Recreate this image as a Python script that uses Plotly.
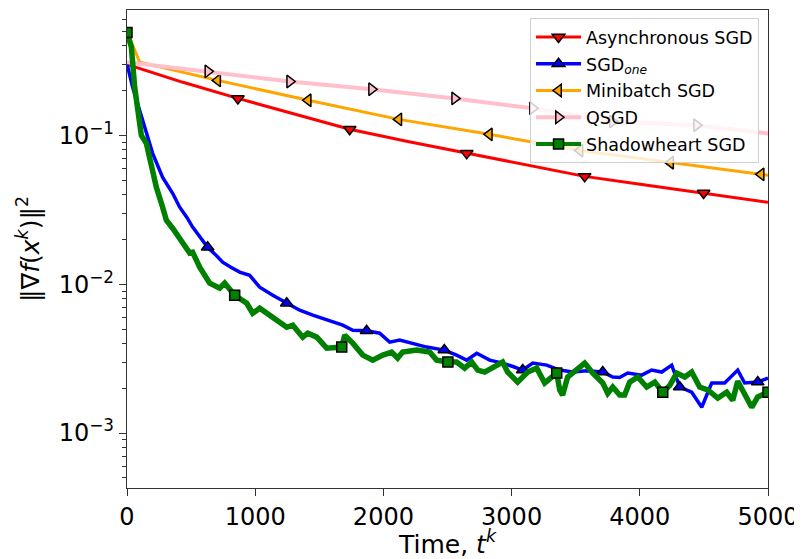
import plotly.graph_objects as go

# ---- data (time, squared gradient norm) ----
async_t = [0, 430, 865, 1300, 1737, 2190, 2650, 3110, 3570, 4030, 4498, 5000]
async_v = [0.300, 0.228, 0.177, 0.139, 0.110, 0.091, 0.0757, 0.063, 0.053, 0.0465, 0.041, 0.0355]
async_marks = [865, 1737, 2650, 3570, 4498]

one_t = [0, 44, 99, 154, 200, 278, 356, 411, 466, 512,
         570, 629, 690, 746, 810, 879, 957, 1035, 1137, 1246,
         1347, 1449, 1558, 1610, 1683, 1761, 1869, 1971, 2049, 2127,
         2228, 2338, 2475, 2571, 2649, 2728, 2829, 2931, 3010, 3087,
         3165, 3274, 3375, 3477, 3587, 3711, 3789, 3843, 3906, 4015,
         4093, 4171, 4249, 4311, 4405, 4483, 4561, 4662, 4764, 4818,
         4920, 5000]
one_v = [0.303, 0.210, 0.147, 0.103, 0.0757, 0.0522, 0.0408, 0.0329, 0.0282, 0.0242,
         0.0207, 0.0177, 0.0158, 0.01406, 0.0130, 0.01205, 0.01148, 0.00955, 0.00844, 0.00745,
         0.00669, 0.00620, 0.00573, 0.00556, 0.00531, 0.00491, 0.00486, 0.00469, 0.00408, 0.00421,
         0.00402, 0.00378, 0.00361, 0.00334, 0.00309, 0.00344, 0.00309, 0.00295, 0.00280, 0.00265,
         0.00295, 0.00286, 0.00265, 0.00257, 0.00262, 0.00257, 0.00238, 0.00236, 0.00253, 0.00245,
         0.00265, 0.00257, 0.00286, 0.00204, 0.00188, 0.00149, 0.00217, 0.00217, 0.00265, 0.00217,
         0.00220, 0.00234]
one_marks = [629, 1246, 1869, 2475, 3087, 3711, 4311, 4920]

mini_t = [0, 99, 707, 1413, 2120, 2826, 3533, 4240, 4946, 5000]
mini_v = [0.50, 0.31, 0.234, 0.172, 0.128, 0.1016, 0.079, 0.0655, 0.0547, 0.054]
mini_marks = [707, 1413, 2120, 2826, 3533, 4240, 4946]

qsgd_t = [0, 631, 1269, 1908, 2556, 3164, 3788, 4443, 5000]
qsgd_v = [0.31, 0.269, 0.230, 0.204, 0.177, 0.152, 0.124, 0.117, 0.103]
qsgd_marks = [631, 1269, 1908, 2556, 3164, 3788, 4443]

shadow_t = [0, 34, 60, 83, 112, 151, 190, 229, 278, 307,
            360, 411, 489, 512, 567, 645, 723, 762, 840, 934,
            980, 1035, 1137, 1246, 1293, 1371, 1410, 1480, 1558, 1636,
            1675, 1698, 1761, 1839, 1917, 1995, 2064, 2111, 2150, 2260,
            2361, 2416, 2503, 2571, 2634, 2689, 2736, 2790, 2852, 2930,
            2969, 3047, 3126, 3196, 3258, 3352, 3375, 3398, 3437, 3508,
            3570, 3633, 3711, 3750, 3789, 3843, 3882, 3921, 3984, 4054,
            4117, 4179, 4234, 4288, 4351, 4405, 4467, 4530, 4608, 4678,
            4725, 4764, 4818, 4873, 4920, 5000]
shadow_v = [0.49, 0.392, 0.210, 0.141, 0.100, 0.0884, 0.0610, 0.0448, 0.0329, 0.0269,
            0.0235, 0.0204, 0.0162, 0.0164, 0.0130, 0.01016, 0.0094, 0.01016, 0.00844, 0.00745,
            0.00638, 0.00690, 0.00601, 0.00514, 0.00531, 0.00441, 0.00469, 0.00441, 0.00372, 0.00378,
            0.00378, 0.00455, 0.00402, 0.00334, 0.00309, 0.00334, 0.00350, 0.00319, 0.00350, 0.00361,
            0.00350, 0.00309, 0.00300, 0.00300, 0.00273, 0.00300, 0.00265, 0.00257, 0.00273, 0.00300,
            0.00257, 0.00220, 0.00257, 0.00273, 0.00217, 0.00253, 0.00195, 0.00180, 0.00238, 0.00265,
            0.00295, 0.00253, 0.00217, 0.00185, 0.00204, 0.00180, 0.00180, 0.00220, 0.00238, 0.00204,
            0.00220, 0.00188, 0.00209, 0.00253, 0.00238, 0.00257, 0.00204, 0.00195, 0.00172, 0.00188,
            0.00166, 0.00223, 0.00180, 0.00149, 0.00175, 0.00188]
shadow_marks = [0, 840, 1675, 2503, 3352, 4179, 5000]

x_ticks = [0, 1000, 2000, 3000, 4000, 5000]
y_tick_vals = [0.001, 0.01, 0.1]
y_tick_text = ["10<sup>\u22123</sup>", "10<sup>\u22122</sup>", "10<sup>\u22121</sup>"]
y_minor_vals = [m * d for d in (0.0001, 0.001, 0.01, 0.1) for m in range(2, 10)]

FONT = "DejaVu Sans"

# name, times, values, marker times, colour, line width, symbol
series = [
  ("Asynchronous SGD", async_t, async_v, async_marks, "#ff0000", 3, "triangle-down"),
  ("SGD<sub><i>one</i></sub>", one_t, one_v, one_marks, "#0000ff", 3.5, "triangle-up"),
  ("Minibatch SGD", mini_t, mini_v, mini_marks, "#ffa500", 3, "triangle-left"),
  ("QSGD", qsgd_t, qsgd_v, qsgd_marks, "#ffc0cb", 4, "triangle-right"),
  ("Shadowheart SGD", shadow_t, shadow_v, shadow_marks, "#008000", 5.5, "square"),
]

fig = go.Figure()
for k, (name, t, v, marks, color, lw, sym) in enumerate(series):
  idx = [t.index(m) for m in marks]
  msize = 10 if sym == "square" else 11
  fig.add_trace(go.Scatter(x=t, y=v, mode="lines", line=dict(color=color, width=lw),
                           showlegend=False, hoverinfo="skip"))
  fig.add_trace(go.Scatter(x=[t[i] for i in idx], y=[v[i] for i in idx], mode="markers",
                           marker=dict(symbol=sym, size=msize, color=color,
                                       line=dict(color="black", width=1.5)),
                           showlegend=False, hoverinfo="skip"))
  # legend entry (line + marker)
  fig.add_trace(go.Scatter(x=[None], y=[None], mode="lines+markers", name=name,
                           legendgroup=f"g{k}",
                           line=dict(color=color, width=min(lw, 4)),
                           marker=dict(symbol=sym, size=msize, color=color,
                                       line=dict(color="black", width=1.5))))

axis_common = dict(showline=True, linecolor="#333", linewidth=1.3, mirror=True,
                   ticks="outside", ticklen=7, tickwidth=1.3, tickcolor="#333",
                   showgrid=False, zeroline=False, automargin=False,
                   tickfont=dict(family=FONT, size=24, color="black"))

fig.update_xaxes(range=[0, 5000], tickmode="array", tickvals=x_ticks,
                 title=dict(text="Time, <i>t</i><sup><i>k</i></sup>", standoff=8,
                            font=dict(family=FONT, size=25, color="black")),
                 **axis_common)
fig.update_yaxes(type="log", range=[-3.369, -0.158], tickmode="array",
                 tickvals=y_tick_vals, ticktext=y_tick_text,
                 minor=dict(ticks="outside", ticklen=4, tickwidth=1, tickcolor="#333",
                            tickmode="array", tickvals=y_minor_vals, showgrid=False),
                 title=dict(text="\u2016\u2207<i>f</i>(<i>x</i><sup><i>k</i></sup>)\u2016<sup>2</sup>",
                            standoff=12, font=dict(family=FONT, size=25, color="black")),
                 **axis_common)

# the page body adds an 8 px offset, so the figure is 8 px smaller each way
fig.update_layout(
  width=794, height=551,
  margin=dict(l=119, r=34, t=2, b=71),
  paper_bgcolor="white", plot_bgcolor="white",
  font=dict(family=FONT, color="black"),
  legend=dict(x=0.986, y=0.983, xanchor="right", yanchor="top",
              bgcolor="rgba(255,255,255,0.8)", bordercolor="#d0d0d0", borderwidth=1,
              font=dict(family=FONT, size=17.5, color="black"),
              itemwidth=45, tracegroupgap=1),
)

fig.write_html("out.html")
